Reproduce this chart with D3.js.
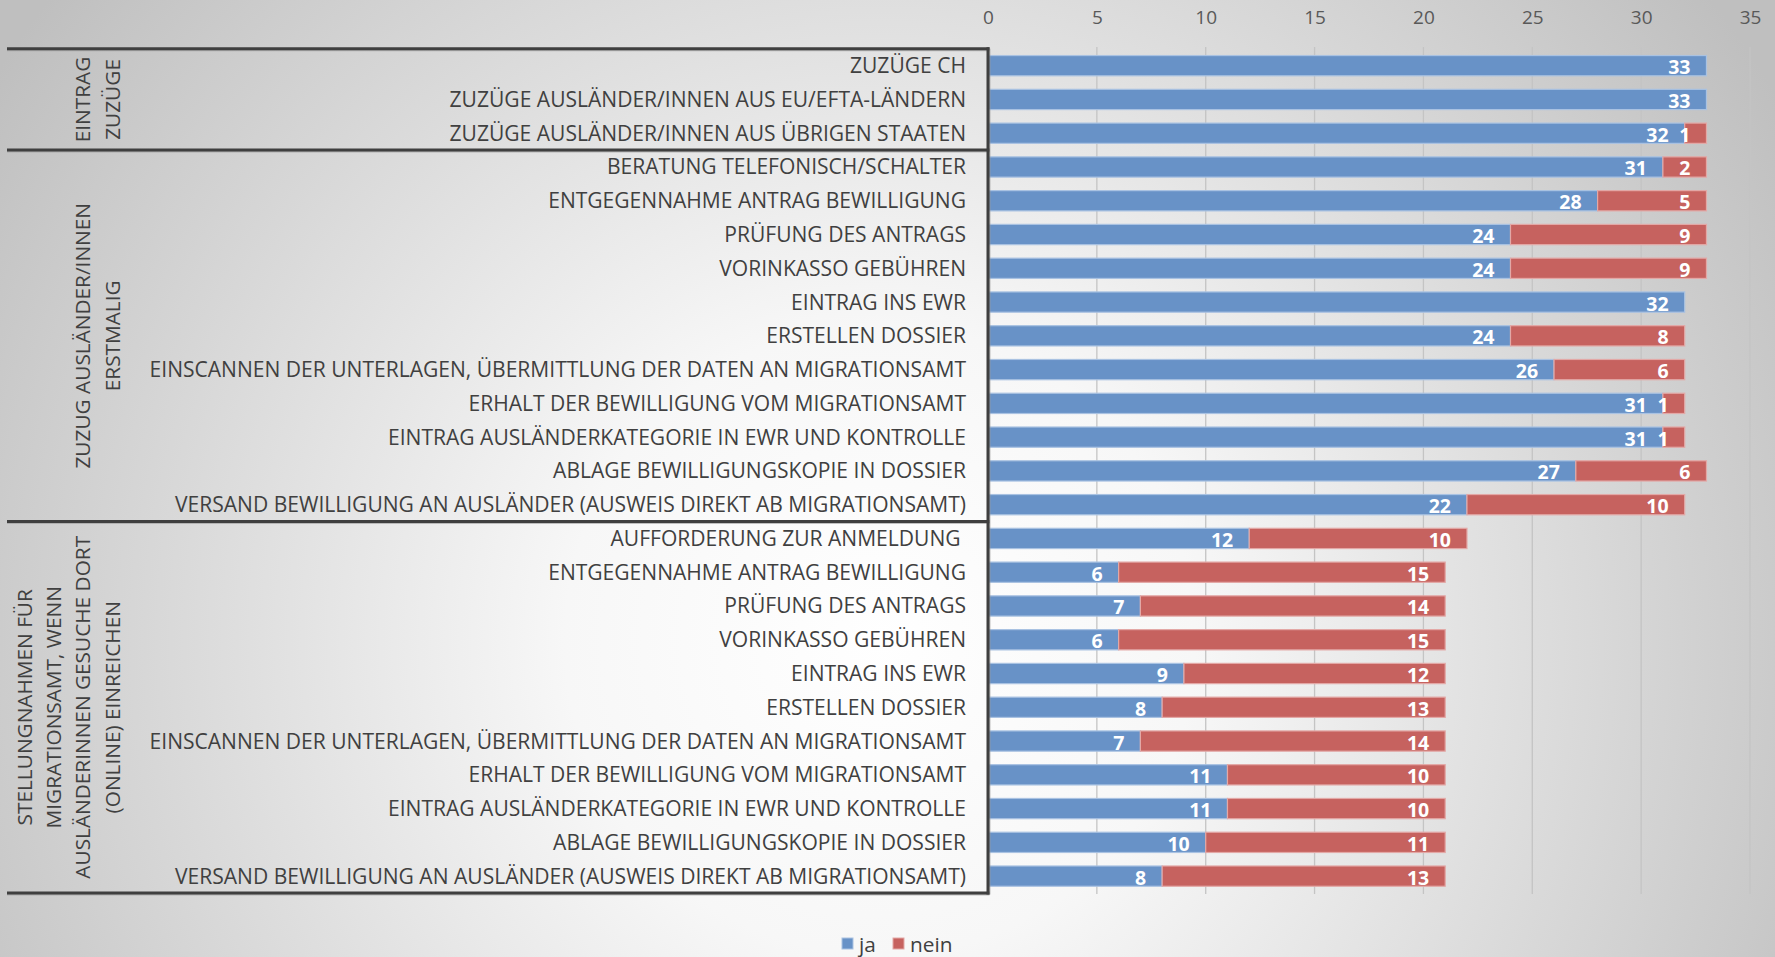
<!DOCTYPE html>
<html><head><meta charset="utf-8">
<script src="https://cdn.jsdelivr.net/npm/d3@7"></script>
<style>
html,body{margin:0;padding:0;overflow:hidden;}
svg{display:block;font-family:"Open Sans",sans-serif;}
</style></head>
<body><svg id="c" width="1775" height="957"></svg>
<script>
const categories = [
  "ZUZÜGE CH",
  "ZUZÜGE AUSLÄNDER/INNEN AUS EU/EFTA-LÄNDERN",
  "ZUZÜGE AUSLÄNDER/INNEN AUS ÜBRIGEN STAATEN",
  "BERATUNG TELEFONISCH/SCHALTER",
  "ENTGEGENNAHME ANTRAG BEWILLIGUNG",
  "PRÜFUNG DES ANTRAGS",
  "VORINKASSO GEBÜHREN",
  "EINTRAG INS EWR",
  "ERSTELLEN DOSSIER",
  "EINSCANNEN DER UNTERLAGEN, ÜBERMITTLUNG DER DATEN AN MIGRATIONSAMT",
  "ERHALT DER BEWILLIGUNG VOM MIGRATIONSAMT",
  "EINTRAG AUSLÄNDERKATEGORIE IN EWR UND KONTROLLE",
  "ABLAGE BEWILLIGUNGSKOPIE IN DOSSIER",
  "VERSAND BEWILLIGUNG AN AUSLÄNDER (AUSWEIS DIREKT AB MIGRATIONSAMT)",
  "AUFFORDERUNG ZUR ANMELDUNG ",
  "ENTGEGENNAHME ANTRAG BEWILLIGUNG",
  "PRÜFUNG DES ANTRAGS",
  "VORINKASSO GEBÜHREN",
  "EINTRAG INS EWR",
  "ERSTELLEN DOSSIER",
  "EINSCANNEN DER UNTERLAGEN, ÜBERMITTLUNG DER DATEN AN MIGRATIONSAMT",
  "ERHALT DER BEWILLIGUNG VOM MIGRATIONSAMT",
  "EINTRAG AUSLÄNDERKATEGORIE IN EWR UND KONTROLLE",
  "ABLAGE BEWILLIGUNGSKOPIE IN DOSSIER",
  "VERSAND BEWILLIGUNG AN AUSLÄNDER (AUSWEIS DIREKT AB MIGRATIONSAMT)"
];
const ja   = [33,33,32,31,28,24,24,32,24,26,31,31,27,22,12,6,7,6,9,8,7,11,11,10,8];
const nein = [0,0,1,2,5,9,9,0,8,6,1,1,6,10,10,15,14,15,12,13,14,10,10,11,13];
const groups = [
  {lines:["EINTRAG","ZUZÜGE"], start:0, end:3},
  {lines:["ZUZUG AUSLÄNDER/INNEN","ERSTMALIG"], start:3, end:14},
  {lines:["STELLUNGNAHMEN FÜR","MIGRATIONSAMT, WENN","AUSLÄNDERINNEN GESUCHE DORT","(ONLINE) EINREICHEN"], start:14, end:25}
];
const seriesNames = ["ja","nein"];
const tickValues = [0,5,10,15,20,25,30,35];

const colors = {ja:"#6892c7", nein:"#c6625f"};
const strokes = {ja:"#a9c2e2", nein:"#e3a8a6"};

const svg = d3.select("#c");
const W = 1775, H = 957;
const FS = 20.8;

// background
const defs = svg.append("defs");
const rg = defs.append("radialGradient").attr("id","bg")
  .attr("gradientUnits","userSpaceOnUse").attr("cx",880).attr("cy",640).attr("r",1050);
rg.append("stop").attr("offset",0).attr("stop-color","#ffffff");
rg.append("stop").attr("offset",0.3).attr("stop-color","#f7f7f7");
rg.append("stop").attr("offset",1).attr("stop-color","#bfbfbf");
svg.append("rect").attr("width",W).attr("height",H).attr("fill","url(#bg)");

const x0 = 988, x1 = 1750, plotTop = 48.8, plotBottom = 893;
const x = d3.scaleLinear().domain([0,35]).range([x0,x1]);
const idx = categories.map((c,i)=>i);
const y = d3.scaleBand().domain(idx).range([plotTop,plotBottom]).paddingInner(0.4).paddingOuter(0.2);

// gridlines
svg.append("g").selectAll("line").data(tickValues.filter(d=>d>0)).join("line")
  .attr("x1",d=>x(d)).attr("x2",d=>x(d)).attr("y1",47).attr("y2",894)
  .attr("stroke","#c4c4c4").attr("stroke-width",1.3);

// top axis
const ax = svg.append("g").attr("transform","translate(0,24)")
  .call(d3.axisTop(x).tickValues(tickValues).tickSize(0).tickPadding(0));
ax.select(".domain").remove();
ax.selectAll("text").attr("font-family","'Open Sans',sans-serif").attr("font-size",19)
  .attr("fill","#595959").attr("dy","0");

// bars
const stackData = idx.map(i=>({i, ja:ja[i], nein:nein[i]}));
const stacked = d3.stack().keys(seriesNames)(stackData);
const bh = y.bandwidth();
stacked.forEach(s=>{
  const g = svg.append("g");
  g.selectAll("rect").data(s.filter(d=>d[1]-d[0]>0)).join("rect")
    .attr("x",d=>x(d[0])).attr("y",d=>y(d.data.i))
    .attr("width",d=>x(d[1])-x(d[0])).attr("height",bh)
    .attr("fill",colors[s.key]).attr("stroke",strokes[s.key]).attr("stroke-width",1.2);
  g.selectAll("text").data(s.filter(d=>d[1]-d[0]>0)).join("text")
    .attr("x",d=>x(d[1])-16).attr("y",d=>y(d.data.i)+bh/2+1)
    .attr("text-anchor","end").attr("dominant-baseline","central")
    .attr("font-size",19.5).attr("font-weight","bold").attr("fill","#ffffff")
    .text(d=>d[1]-d[0]);
});

// category labels
svg.append("g").selectAll("text").data(idx).join("text")
  .attr("x",966).attr("y",i=>y(i)+bh/2-0.5)
  .attr("text-anchor","end").attr("dominant-baseline","central")
  .attr("font-size",21.05).attr("fill","#404040").style("white-space","pre")
  .text(i=>categories[i]);

// box lines
const lineY = [plotTop, y.step()*3+plotTop, y.step()*14+plotTop, plotBottom];
const box = svg.append("g");
lineY.forEach(ly=>{
  box.append("line").attr("x1",7).attr("x2",x0+1.5).attr("y1",ly+1.5).attr("y2",ly+1.5)
    .attr("stroke","#9a9a9a").attr("stroke-width",2).attr("opacity",0.6);
  box.append("line").attr("x1",7).attr("x2",x0+1.5).attr("y1",ly).attr("y2",ly)
    .attr("stroke","#3f3f3f").attr("stroke-width",3);
});
box.append("line").attr("x1",x0+1.5).attr("x2",x0+1.5).attr("y1",plotTop).attr("y2",plotBottom+1.5)
  .attr("stroke","#9a9a9a").attr("stroke-width",2).attr("opacity",0.6);
box.append("line").attr("x1",x0).attr("x2",x0).attr("y1",plotTop-1.5).attr("y2",plotBottom+1.5)
  .attr("stroke","#3f3f3f").attr("stroke-width",3);

// group labels
const lineXs = [24,53,82,112];
groups.forEach(gp=>{
  const cy = (y.step()*gp.start + y.step()*gp.end)/2 + plotTop;
  const n = gp.lines.length;
  gp.lines.forEach((t,k)=>{
    const lx = lineXs[4-n+k];
    svg.append("text").attr("transform",`translate(${lx},${cy}) rotate(-90)`)
      .attr("text-anchor","middle").attr("dominant-baseline","central")
      .attr("font-size",FS).attr("fill","#404040").text(t);
  });
});

// legend
const lg = svg.append("g").attr("transform","translate(0,944)");
const legendItems = [{k:"ja",x:842},{k:"nein",x:893}];
legendItems.forEach(it=>{
  lg.append("rect").attr("x",it.x).attr("y",-6).attr("width",11).attr("height",11)
    .attr("fill",colors[it.k]).attr("stroke",strokes[it.k]).attr("stroke-width",1);
  lg.append("text").attr("x",it.x+17).attr("y",0).attr("dominant-baseline","central")
    .attr("font-size",FS).attr("fill","#404040").text(it.k);
});
</script></body></html>
